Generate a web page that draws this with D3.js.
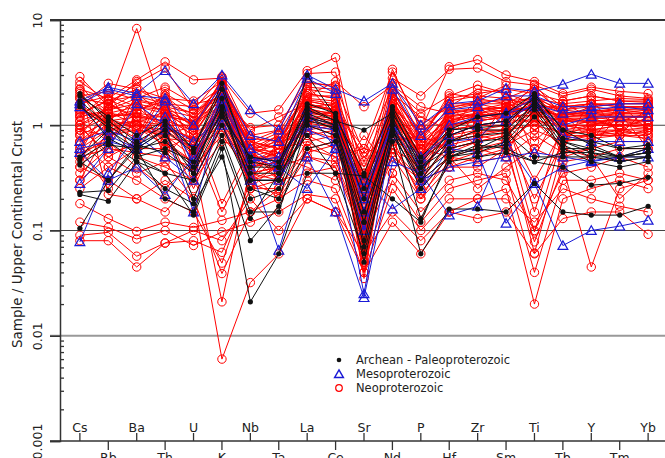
<!DOCTYPE html>
<html>
<head>
<meta charset="utf-8">
<script src="https://cdn.jsdelivr.net/npm/d3@7"></script>
<style>
  body { margin: 0; background: #fff; }
  svg { display: block; font-family: "DejaVu Sans", sans-serif; }
</style>
</head>
<body>
<script>
const elements = ['Cs', 'Rb', 'Ba', 'Th', 'U', 'K', 'Nb', 'Ta', 'La', 'Ce', 'Sr',
  'Nd', 'P', 'Hf', 'Zr', 'Sm', 'Ti', 'Tb', 'Y', 'Tm', 'Yb']
const yTicks = [0.001, 0.01, 0.1, 1, 10]
const yTickLabels = ['0.001', '0.01', '0.1', '1', '10']
const gridValues = [0.01, 0.1, 1]
const legendLabels = ['Archean - Paleoproterozoic', 'Mesoproterozoic', 'Neoproterozoic']

// Archean - Paleoproterozoic samples (normalised to UCC)
const archean = [
  [2.0, 1.1, 0.7, 1.0, 0.6, 2.2, 0.45, 0.4, 3.0, 1.2, 0.35, 1.5, 0.5, 0.9, 1.2, 1.3, 2.0, 0.9, 0.8, 0.6, 0.6],
  [1.7, 1.0, 0.65, 0.9, 0.55, 1.5, 0.35, 0.35, 1.5, 1.1, 0.9, 1.3, 0.45, 0.8, 1.0, 1.1, 1.8, 0.7, 0.6, 0.5, 0.55],
  [1.5, 0.95, 0.5, 0.6, 0.45, 1.3, 0.3, 0.3, 1.3, 1.0, 0.08, 1.1, 0.4, 0.7, 0.9, 0.9, 1.6, 0.75, 0.7, 0.6, 0.65],
  [0.48, 0.7, 0.45, 0.35, 0.3, 1.0, 0.25, 0.2, 1.2, 0.9, 0.07, 0.9, 0.35, 0.55, 0.6, 0.8, 1.5, 0.65, 0.5, 0.45, 0.5],
  [0.45, 0.3, 0.6, 0.9, 0.2, 0.8, 0.15, 0.15, 1.0, 0.8, 0.05, 0.8, 0.3, 0.5, 0.55, 0.7, 1.4, 0.6, 0.45, 0.4, 0.45],
  [0.42, 0.65, 0.6, 0.2, 0.15, 0.7, 0.13, 0.35, 0.8, 0.35, 0.33, 0.2, 0.12, 0.5, 0.65, 0.6, 0.45, 0.55, 0.55, 0.5, 0.55],
  [0.23, 0.24, 0.5, 0.35, 0.14, 0.6, 0.021, 0.06, 0.35, 0.35, 0.06, 0.7, 0.06, 0.16, 0.16, 0.15, 0.28, 0.15, 0.14, 0.14, 0.17],
  [0.22, 0.19, 0.45, 0.25, 0.18, 0.5, 0.08, 0.17, 0.6, 0.7, 0.12, 1.0, 0.13, 0.45, 0.5, 0.55, 0.45, 0.4, 0.27, 0.28, 0.32],
  [0.105, 0.3, 0.65, 0.55, 0.35, 1.2, 0.5, 0.45, 1.4, 1.1, 0.2, 1.2, 0.35, 0.9, 0.95, 1.0, 1.9, 0.9, 0.65, 0.5, 0.6],
  [1.9, 1.2, 0.8, 1.1, 0.6, 2.5, 0.4, 0.4, 1.6, 1.3, 0.25, 1.4, 0.4, 0.6, 0.7, 0.75, 1.7, 0.7, 0.55, 0.45, 0.5],
  [1.6, 0.75, 0.55, 0.8, 0.35, 1.8, 0.2, 0.25, 1.1, 0.95, 0.15, 0.9, 0.25, 0.5, 0.6, 0.65, 1.2, 0.6, 0.6, 0.5, 0.5],
  [0.5, 0.9, 0.6, 0.7, 0.4, 1.4, 0.3, 0.3, 1.2, 1.0, 0.12, 1.0, 0.3, 0.7, 0.8, 0.85, 0.5, 0.5, 0.5, 0.5, 0.55]
]

// Mesoproterozoic samples
const meso = [
  [1.7, 2.3, 2.0, 3.3, 1.6, 3.0, 1.4, 0.9, 3.0, 2.2, 1.7, 2.5, 1.0, 1.6, 1.7, 2.25, 2.1, 2.45, 3.05, 2.5, 2.5],
  [1.6, 2.2, 1.9, 1.8, 1.0, 2.4, 0.8, 0.7, 2.8, 2.0, 0.15, 2.2, 0.8, 1.4, 1.5, 1.9, 1.9, 1.5, 1.5, 1.6, 1.6],
  [0.7, 0.9, 0.7, 1.7, 0.4, 1.6, 0.5, 0.4, 1.4, 0.6, 0.025, 0.9, 0.4, 0.7, 0.75, 1.3, 1.8, 0.8, 0.7, 0.7, 0.7],
  [0.6, 0.7, 0.6, 0.9, 0.15, 1.5, 0.4, 0.065, 0.5, 0.15, 0.023, 0.45, 0.35, 0.14, 0.17, 0.7, 0.28, 0.4, 0.46, 0.5, 0.5],
  [0.55, 0.3, 0.4, 0.22, 0.5, 2.0, 0.6, 0.4, 0.25, 0.6, 0.3, 0.16, 0.25, 0.6, 0.55, 0.117, 0.28, 0.072, 0.1, 0.11, 0.125],
  [0.28, 0.6, 1.6, 1.0, 0.7, 1.2, 0.45, 0.5, 1.0, 0.9, 0.2, 1.0, 0.5, 0.8, 1.0, 1.1, 1.6, 1.3, 1.4, 1.5, 1.4],
  [0.078, 0.35, 0.8, 0.5, 0.3, 1.0, 0.3, 0.3, 0.9, 0.7, 0.1, 0.8, 0.3, 0.4, 0.45, 0.5, 0.55, 0.5, 0.45, 0.5, 0.6],
  [1.5, 0.8, 0.6, 1.2, 0.45, 1.8, 0.5, 0.45, 1.2, 1.0, 0.25, 1.0, 0.45, 1.0, 1.2, 1.3, 1.5, 1.0, 1.2, 1.2, 1.2]
]

// Neoproterozoic samples
const neo = [
  [2.9, 1.5, 8.3, 1.2, 1.1, 2.6, 0.6, 0.5, 1.6, 1.4, 0.2, 1.5, 0.6, 1.1, 1.3, 1.4, 1.5, 1.2, 1.3, 1.2, 1.2],
  [2.2, 1.8, 2.7, 4.0, 2.7, 2.8, 1.3, 1.4, 3.3, 4.4, 0.3, 3.4, 0.9, 3.6, 4.2, 3.0, 2.6, 2.0, 2.3, 2.1, 2.0],
  [1.8, 1.6, 2.5, 3.5, 1.4, 2.9, 0.8, 0.9, 3.1, 3.2, 0.25, 2.8, 1.9, 3.4, 3.5, 2.6, 2.4, 1.9, 2.2, 1.9, 1.8],
  [1.5, 2.5, 2.2, 1.8, 1.7, 2.6, 0.7, 0.6, 2.5, 2.4, 0.2, 2.5, 0.8, 1.8, 2.0, 2.2, 2.0, 1.7, 1.9, 1.7, 1.7],
  [1.3, 1.7, 1.9, 1.6, 1.3, 2.3, 0.6, 0.7, 2.2, 2.0, 0.12, 2.2, 0.7, 1.5, 1.6, 1.8, 2.3, 1.5, 1.6, 1.5, 1.5],
  [1.1, 1.4, 1.6, 1.4, 1.2, 2.4, 0.55, 0.8, 2.0, 1.8, 0.1, 2.0, 0.6, 1.3, 1.4, 1.6, 1.8, 1.4, 1.5, 1.4, 1.4],
  [1.0, 1.3, 1.5, 1.3, 0.9, 2.1, 0.5, 0.6, 1.8, 1.7, 0.09, 1.8, 0.55, 1.2, 1.3, 1.5, 1.7, 1.3, 1.3, 1.3, 1.3],
  [0.9, 1.2, 1.3, 1.2, 0.8, 2.0, 0.45, 0.55, 1.7, 1.5, 0.08, 1.6, 0.5, 1.1, 1.2, 1.3, 1.6, 1.2, 1.2, 1.2, 1.2],
  [0.8, 1.1, 1.2, 1.1, 0.7, 1.8, 0.45, 0.5, 1.5, 1.4, 0.07, 1.5, 0.45, 1.0, 1.1, 1.2, 1.5, 1.1, 1.1, 1.1, 1.1],
  [0.7, 1.0, 1.1, 1.0, 0.65, 1.7, 0.4, 0.45, 1.4, 1.3, 0.06, 1.4, 0.4, 0.9, 1.0, 1.1, 1.4, 1.0, 1.0, 1.0, 1.0],
  [0.6, 0.9, 1.0, 0.9, 0.6, 1.6, 0.35, 0.4, 1.3, 1.2, 0.05, 1.3, 0.35, 0.8, 0.9, 1.0, 1.3, 0.9, 0.9, 0.9, 0.9],
  [0.5, 0.8, 0.9, 0.8, 0.5, 1.5, 0.3, 0.35, 1.2, 1.1, 0.04, 1.2, 0.3, 0.7, 0.8, 0.9, 1.2, 0.8, 0.8, 0.8, 0.8],
  [2.0, 0.9, 1.1, 0.7, 0.4, 1.2, 0.6, 0.3, 0.9, 1.0, 0.35, 0.7, 0.8, 0.6, 0.7, 1.6, 0.9, 1.3, 0.7, 1.6, 0.9],
  [1.2, 2.0, 0.8, 2.2, 0.6, 0.9, 0.3, 0.7, 0.8, 0.6, 0.15, 1.1, 0.25, 1.6, 0.8, 0.7, 1.1, 0.6, 1.8, 0.8, 1.5],
  [0.35, 0.6, 2.0, 0.5, 1.0, 2.2, 0.25, 0.45, 1.0, 1.5, 0.5, 0.9, 0.6, 0.5, 1.5, 1.0, 0.6, 1.0, 0.9, 1.0, 0.7],
  [0.3, 0.5, 0.7, 1.5, 0.35, 1.9, 0.7, 0.9, 0.6, 0.7, 0.18, 0.6, 0.4, 1.2, 0.6, 0.5, 2.0, 0.5, 0.6, 1.3, 0.6],
  [0.25, 0.4, 0.6, 0.6, 0.8, 1.4, 0.5, 0.3, 2.4, 1.2, 0.07, 2.0, 1.2, 0.9, 1.8, 2.4, 0.5, 1.6, 1.2, 0.9, 1.2],
  [0.45, 1.3, 0.5, 0.4, 0.3, 1.1, 0.4, 0.6, 0.7, 0.5, 0.6, 0.5, 0.3, 0.4, 0.4, 0.6, 1.2, 0.8, 1.0, 1.1, 1.3],
  [0.6, 0.25, 1.5, 0.9, 0.25, 1.0, 0.35, 0.2, 0.5, 0.4, 0.08, 0.35, 0.15, 0.3, 0.35, 0.3, 0.1, 0.35, 0.4, 0.5, 0.4],
  [0.18, 0.13, 0.098, 0.12, 0.107, 0.125, 0.15, 0.2, 0.3, 0.25, 0.05, 0.3, 0.12, 0.25, 0.3, 0.35, 0.04, 0.3, 0.3, 0.35, 0.3],
  [0.12, 0.107, 0.083, 0.1, 0.072, 0.097, 0.12, 0.15, 0.22, 0.2, 0.04, 0.25, 0.1, 0.2, 0.2, 0.25, 0.02, 0.2, 0.25, 0.3, 0.25],
  [0.09, 0.096, 0.057, 0.076, 0.1, 0.08, 0.2, 0.1, 0.2, 0.15, 0.06, 0.15, 0.08, 0.15, 0.13, 0.15, 0.06, 0.13, 0.15, 0.15, 0.092],
  [0.08, 0.08, 0.045, 0.076, 0.08, 0.062, 0.25, 0.3, 0.35, 0.4, 0.1, 0.5, 0.2, 0.4, 0.5, 0.6, 0.078, 0.4, 0.045, 0.25, 0.3],
  [0.7, 0.4, 0.3, 0.2, 0.15, 0.049, 0.3, 0.4, 0.8, 0.9, 0.2, 0.9, 0.5, 0.7, 0.9, 0.9, 0.097, 0.8, 0.9, 0.8, 0.9],
  [0.4, 0.3, 0.2, 0.3, 0.2, 0.039, 0.15, 0.25, 0.6, 0.5, 0.12, 0.6, 0.3, 0.5, 0.6, 0.7, 0.061, 0.6, 0.5, 0.6, 0.6],
  [0.55, 0.7, 0.4, 0.25, 0.45, 0.021, 0.4, 0.5, 1.0, 0.8, 0.3, 1.1, 0.7, 0.6, 0.7, 0.8, 0.2, 0.7, 0.8, 0.9, 0.8],
  [1.0, 0.5, 0.35, 0.45, 0.2, 0.006, 0.032, 0.06, 0.2, 0.15, 0.04, 0.12, 0.06, 0.15, 0.2, 0.2, 0.12, 0.25, 0.2, 0.17, 0.15],
  [1.6, 1.0, 1.0, 0.75, 0.7, 0.15, 0.5, 0.45, 1.1, 1.0, 0.3, 1.0, 0.35, 0.8, 1.0, 1.0, 0.3, 0.9, 1.0, 1.0, 1.0],
  [2.4, 1.2, 1.3, 1.0, 1.0, 0.18, 0.6, 0.55, 1.3, 1.3, 0.4, 1.4, 0.5, 1.0, 1.1, 1.2, 0.15, 1.1, 1.1, 1.1, 1.1],
  [0.8, 1.6, 1.2, 1.1, 0.9, 2.5, 0.8, 0.7, 1.9, 2.6, 1.5, 2.4, 1.5, 1.3, 1.2, 1.4, 1.0, 1.2, 1.5, 1.6, 1.6],
  [1.4, 1.1, 1.7, 1.5, 1.3, 2.0, 0.9, 1.2, 1.6, 1.4, 0.6, 3.2, 1.0, 1.5, 2.2, 2.0, 1.6, 1.4, 1.6, 1.5, 1.5],
  [1.0, 1.5, 2.6, 1.3, 1.1, 1.7, 0.7, 0.5, 1.5, 1.6, 0.3, 1.7, 0.7, 2.0, 1.8, 1.6, 1.3, 1.4, 1.3, 1.4, 1.3],
  [0.7, 1.2, 1.4, 1.7, 0.5, 1.3, 0.45, 0.6, 1.4, 1.2, 0.2, 1.2, 0.5, 1.4, 1.6, 1.4, 1.7, 1.1, 1.2, 1.3, 1.4],
  [1.8, 1.3, 1.2, 1.2, 0.8, 2.2, 0.5, 0.5, 1.2, 1.1, 0.15, 1.1, 0.55, 1.1, 1.3, 1.2, 2.0, 1.0, 1.0, 1.2, 1.2],
  [0.9, 0.8, 1.0, 1.0, 0.55, 1.1, 0.35, 0.3, 1.0, 0.9, 0.12, 1.0, 0.45, 0.9, 1.0, 1.1, 1.1, 1.0, 0.9, 1.0, 1.0],
  [1.2, 1.4, 1.8, 2.3, 1.6, 1.8, 0.6, 0.8, 1.9, 1.9, 0.25, 1.9, 0.8, 1.7, 1.9, 1.8, 1.5, 1.5, 1.6, 1.6, 1.6],
  [0.5, 0.6, 0.55, 0.5, 0.4, 0.8, 0.35, 0.4, 0.5, 0.45, 0.1, 0.55, 0.25, 0.5, 0.45, 0.5, 0.8, 0.55, 0.6, 0.7, 0.7],
  [1.6, 1.9, 1.5, 1.4, 1.0, 2.7, 0.45, 0.55, 1.7, 1.5, 0.14, 1.6, 0.65, 1.2, 1.4, 1.5, 1.9, 1.3, 1.4, 1.3, 1.3],
  [2.6, 1.7, 2.2, 1.6, 1.5, 2.3, 0.75, 0.7, 2.0, 1.8, 0.45, 1.8, 0.9, 1.6, 1.6, 1.6, 2.2, 1.3, 1.2, 1.1, 1.0],
  [0.3, 0.9, 0.9, 0.85, 0.6, 1.6, 0.55, 0.35, 0.9, 0.75, 0.09, 0.8, 0.4, 0.75, 0.85, 0.9, 1.0, 0.85, 0.85, 0.9, 0.95],
  [1.1, 0.7, 1.6, 0.95, 0.75, 1.35, 0.4, 0.45, 1.25, 1.15, 0.22, 1.25, 0.6, 0.95, 1.1, 1.2, 1.25, 1.1, 1.05, 1.15, 1.1],
  [0.65, 1.05, 1.05, 1.35, 0.85, 1.9, 0.6, 0.65, 1.6, 1.35, 0.18, 1.35, 0.7, 1.15, 1.25, 1.3, 1.45, 1.2, 1.25, 1.25, 1.25],
  [2.2, 0.22, 0.2, 0.15, 0.3, 0.7, 0.6, 0.5, 0.4, 0.3, 0.8, 0.35, 1.1, 0.5, 0.25, 0.4, 0.6, 0.45, 0.5, 0.2, 0.35],
  [1.4, 1.15, 0.95, 0.65, 0.45, 1.45, 0.25, 0.25, 0.7, 0.8, 0.05, 0.75, 0.2, 0.55, 0.7, 0.8, 1.35, 0.95, 1.1, 1.0, 1.1],
  [0.95, 0.55, 0.65, 1.1, 0.5, 1.25, 0.5, 0.75, 1.45, 1.25, 0.35, 1.45, 0.85, 1.3, 1.45, 1.35, 0.7, 1.25, 1.35, 1.45, 1.5],
  [1.25, 1.75, 1.35, 1.9, 1.15, 2.1, 0.65, 0.85, 2.3, 2.2, 0.13, 2.1, 0.75, 1.45, 1.7, 1.7, 1.8, 1.6, 1.7, 1.8, 1.75],
  [0.85, 1.45, 2.0, 1.25, 1.05, 1.55, 0.5, 0.35, 1.15, 1.05, 0.11, 1.15, 0.55, 1.0, 1.15, 1.25, 1.55, 1.15, 1.15, 1.2, 1.2],
  [1.9, 2.1, 1.75, 1.55, 0.95, 2.45, 0.7, 0.6, 1.75, 1.6, 0.28, 1.7, 0.6, 1.35, 1.45, 1.45, 1.35, 1.25, 1.35, 1.4, 1.45],
  [0.4, 0.85, 1.3, 0.7, 0.45, 2.0, 0.3, 0.5, 1.05, 0.95, 0.065, 0.95, 0.3, 0.65, 0.75, 0.85, 2.1, 0.75, 0.8, 0.85, 0.85],
  [1.35, 1.05, 0.75, 2.0, 1.4, 1.75, 0.95, 1.0, 2.6, 2.3, 0.55, 2.3, 1.3, 1.9, 2.4, 2.0, 1.15, 1.7, 1.9, 1.7, 1.65],
  [0.55, 1.6, 1.15, 0.6, 0.35, 1.05, 0.28, 0.22, 0.55, 0.65, 0.16, 0.65, 0.22, 0.45, 0.55, 0.65, 0.9, 0.7, 0.75, 0.8, 0.75],
  [2.1, 1.35, 1.0, 0.85, 0.95, 2.8, 0.55, 0.65, 1.35, 1.2, 0.035, 1.3, 0.5, 1.05, 1.25, 1.3, 2.45, 1.2, 1.05, 1.0, 0.95]
]

const width = 665
const height = 458
const plot = { left: 60, right: 668, top: 20, bottom: 441 }

const svg = d3.select('body').append('svg')
  .attr('width', width)
  .attr('height', height)

const x = d3.scaleLinear()
  .domain([-0.7, elements.length - 1 + 0.7])
  .range([plot.left, plot.right])
const y = d3.scaleLog()
  .domain([0.001, 10])
  .range([plot.bottom, plot.top])

// horizontal reference lines
svg.append('g').selectAll('line')
  .data(gridValues)
  .join('line')
  .attr('x1', plot.left - 10)
  .attr('x2', width)
  .attr('y1', d => y(d))
  .attr('y2', d => y(d))
  .attr('stroke', d => d === 0.01 ? '#999' : '#444')
  .attr('stroke-width', d => d === 0.01 ? 1.8 : 1.2)

// top line at 10
svg.append('line')
  .attr('x1', plot.left - 10).attr('x2', width)
  .attr('y1', y(10)).attr('y2', y(10))
  .attr('stroke', '#333').attr('stroke-width', 2)

// y axis
const yAxis = d3.axisLeft(y)
  .tickValues(yTicks)
  .tickSize(10)
  .tickFormat((d, i) => yTickLabels[i])
const gy = svg.append('g')
  .attr('transform', `translate(${plot.left},0)`)
  .call(yAxis)
gy.select('.domain').attr('stroke', '#333').attr('stroke-width', 1.5)
gy.selectAll('.tick line').attr('stroke', '#333').attr('stroke-width', 1.5)
gy.selectAll('.tick text')
  .attr('x', 0).attr('y', 0).attr('dy', 0)
  .attr('transform', 'translate(-18,0) rotate(-90)')
  .attr('text-anchor', 'middle')
  .attr('font-size', 12.5)
  .attr('font-family', 'DejaVu Sans')
  .attr('fill', '#222')

const minorTicks = []
yTicks.slice(0, -1).forEach(t => {
  for (let k = 2; k <= 9; k++) minorTicks.push(t * k)
})
const gm = svg.append('g')
  .attr('transform', `translate(${plot.left},0)`)
  .call(d3.axisRight(y).tickValues(minorTicks).tickSize(4).tickFormat(''))
gm.select('.domain').remove()
gm.selectAll('.tick line').attr('stroke', '#333').attr('stroke-width', 1.3)

svg.append('text')
  .attr('transform', `translate(22,${(plot.top + plot.bottom) / 2 + 4}) rotate(-90)`)
  .attr('text-anchor', 'middle')
  .attr('font-size', 13.5)
  .attr('fill', '#222')
  .text('Sample / Upper Continental Crust')

// x axis (alternating labels)
svg.append('line')
  .attr('x1', plot.left - 10).attr('x2', width)
  .attr('y1', plot.bottom).attr('y2', plot.bottom)
  .attr('stroke', '#333').attr('stroke-width', 1.5)

const gx = svg.append('g')
const xt = gx.selectAll('g')
  .data(elements)
  .join('g')
  .attr('transform', (d, i) => `translate(${x(i)},${plot.bottom})`)
xt.append('line')
  .attr('y1', 0)
  .attr('y2', (d, i) => i % 2 === 0 ? -8 : 9)
  .attr('stroke', '#333').attr('stroke-width', 1.3)
xt.append('text')
  .attr('y', (d, i) => i % 2 === 0 ? -9 : 21)
  .attr('text-anchor', 'middle')
  .attr('font-size', 12.5)
  .attr('fill', '#222')
  .text(d => d)

// series
const line = d3.line()
  .x((d, i) => x(i))
  .y(d => y(d))

const groups = [
  { data: neo, color: '#ff0000', shape: 'circle' },
  { data: meso, color: '#1a1ad6', shape: 'triangle' },
  { data: archean, color: '#111111', shape: 'dot' }
]

const triangle = d3.symbol().type(d3.symbolTriangle).size(42)

groups.forEach(g => {
  const layer = svg.append('g')
  layer.selectAll('path.ln')
    .data(g.data)
    .join('path')
    .attr('class', 'ln')
    .attr('d', line)
    .attr('fill', 'none')
    .attr('stroke', g.color)
    .attr('stroke-width', 1)

  const pts = g.data.flatMap(row => row.map((v, i) => ({ i, v })))
  if (g.shape === 'circle') {
    layer.selectAll('circle')
      .data(pts)
      .join('circle')
      .attr('cx', d => x(d.i))
      .attr('cy', d => y(d.v))
      .attr('r', 4.2)
      .attr('fill', 'none')
      .attr('stroke', g.color)
      .attr('stroke-width', 1)
  } else if (g.shape === 'triangle') {
    layer.selectAll('path.pt')
      .data(pts)
      .join('path')
      .attr('class', 'pt')
      .attr('d', triangle)
      .attr('transform', d => `translate(${x(d.i)},${y(d.v) + 1})`)
      .attr('fill', 'none')
      .attr('stroke', g.color)
      .attr('stroke-width', 1.2)
  } else {
    layer.selectAll('circle')
      .data(pts)
      .join('circle')
      .attr('cx', d => x(d.i))
      .attr('cy', d => y(d.v))
      .attr('r', 2.6)
      .attr('fill', g.color)
  }
})

// legend
const legend = svg.append('g').attr('transform', 'translate(339,360)')
const lg = legend.selectAll('g')
  .data(legendLabels)
  .join('g')
  .attr('transform', (d, i) => `translate(0,${i * 14})`)
lg.append('text')
  .attr('x', 17)
  .attr('y', 4)
  .attr('font-size', 11.5)
  .attr('fill', '#222')
  .text(d => d)
legend.select('g:nth-child(1)').append('circle')
  .attr('r', 2.3).attr('fill', '#111')
legend.select('g:nth-child(2)').append('path')
  .attr('d', d3.symbol().type(d3.symbolTriangle).size(34))
  .attr('transform', 'translate(0,1)')
  .attr('fill', 'none').attr('stroke', '#1a1ad6').attr('stroke-width', 1.4)
legend.select('g:nth-child(3)').append('circle')
  .attr('r', 3.3).attr('fill', 'none').attr('stroke', '#ff0000').attr('stroke-width', 1.2)
</script>
</body>
</html>
